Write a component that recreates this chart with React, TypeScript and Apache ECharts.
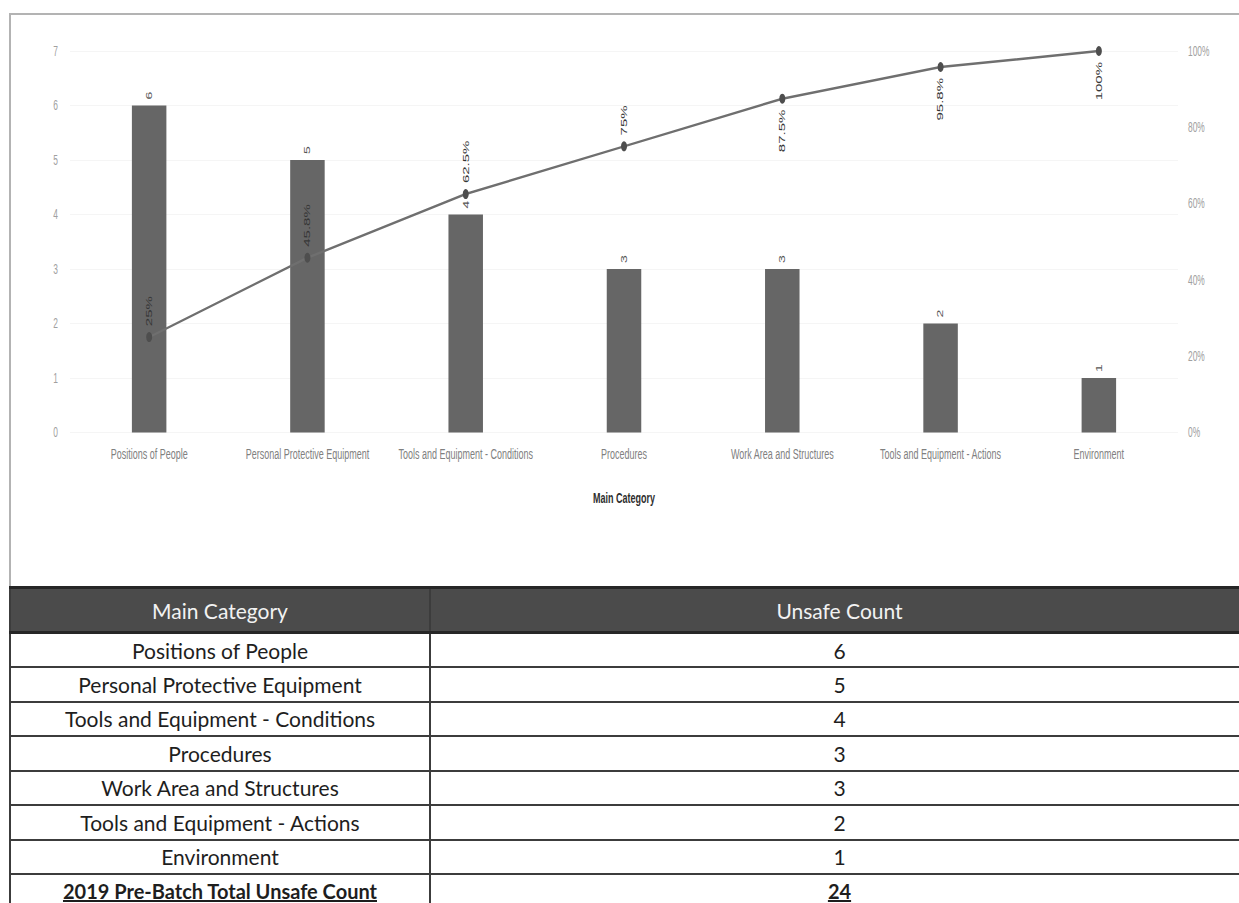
import React, { useEffect, useRef } from "react";
import * as echarts from "echarts";

// Pareto data: unsafe observations by main category
const categories = [
  "Positions of People",
  "Personal Protective Equipment",
  "Tools and Equipment - Conditions",
  "Procedures",
  "Work Area and Structures",
  "Tools and Equipment - Actions",
  "Environment",
];
const unsafeCounts = [6, 5, 4, 3, 3, 2, 1];
const cumulativePct = [25, 45.8, 62.5, 75, 87.5, 95.8, 100];
// cumulative labels sit above the point for the first four, below for the rest
const pctLabelSide = ["top", "top", "top", "top", "bottom", "bottom", "bottom"];

const axisTitle = "Main Category";
const tableHeaders = ["Main Category", "Unsafe Count"];
const totalLabel = "2019 Pre-Batch Total Unsafe Count";
const totalCount = 24;

// the chart is laid out wide and condensed horizontally
const SQUEEZE = 0.6;
const PAGE_W = 1239;
const CHART_H = 585;
const CHART_W = PAGE_W / SQUEEZE;

const FONT = "'Liberation Sans', Arial, sans-serif";
const TABLE_FONT = "Lato, 'Open Sans', sans-serif";

function ParetoChart() {
  const ref = useRef<HTMLDivElement>(null);

  useEffect(() => {
    if (!ref.current) return;
    const chart = echarts.init(ref.current, undefined, { renderer: "svg" });
    const px = (pageX: number) => pageX / SQUEEZE;

    const option: echarts.EChartsOption = {
      animation: false,
      textStyle: { fontFamily: FONT },
      grid: {
        left: px(70),
        right: CHART_W - px(1178),
        top: 51,
        bottom: CHART_H - 432.5,
        containLabel: false,
      },
      xAxis: {
        type: "category",
        data: categories,
        axisLine: { show: false },
        axisTick: { show: false },
        axisLabel: {
          color: "#808080",
          fontSize: 15,
          margin: 14,
          interval: 0,
        },
        name: axisTitle,
        nameLocation: "middle",
        nameGap: 58,
        nameTextStyle: {
          color: "#2e2e2e",
          fontSize: 15,
          fontWeight: "bold",
        },
      },
      yAxis: [
        {
          type: "value",
          min: 0,
          max: 7,
          interval: 1,
          axisLine: { show: false },
          axisTick: { show: false },
          axisLabel: { color: "#a0a0a0", fontSize: 14, margin: px(12) },
          splitLine: { lineStyle: { color: "#f2f2f2", width: 1 } },
        },
        {
          type: "value",
          min: 0,
          max: 100,
          interval: 20,
          position: "right",
          axisLine: { show: false },
          axisTick: { show: false },
          axisLabel: {
            color: "#a0a0a0",
            fontSize: 14,
            margin: px(10),
            formatter: "{value}%",
          },
          splitLine: { show: false },
        },
      ],
      series: [
        {
          type: "bar",
          data: unsafeCounts,
          barWidth: px(34.5),
          itemStyle: { color: "#666666" },
          label: {
            show: true,
            position: "top",
            distance: 6,
            rotate: 90,
            align: "left",
            verticalAlign: "middle",
            color: "#555",
            fontSize: 14,
          },
        },
        {
          type: "line",
          yAxisIndex: 1,
          z: 5,
          data: cumulativePct.map((v, i) => ({
            value: v,
            label: {
              position: pctLabelSide[i] as "top" | "bottom",
              align: pctLabelSide[i] === "top" ? "left" : "right",
            },
          })),
          symbol: "circle",
          symbolSize: 10,
          lineStyle: { color: "#6f6f6f", width: 2.5 },
          itemStyle: { color: "#4e4e4e" },
          label: {
            show: true,
            rotate: 90,
            distance: 6,
            verticalAlign: "middle",
            color: "#363636",
            fontSize: 15,
            formatter: "{c}%",
          },
        },
      ],
    };

    chart.setOption(option);
    return () => chart.dispose();
  }, []);

  return (
    <div
      ref={ref}
      style={{
        position: "absolute",
        left: 0,
        top: 0,
        width: CHART_W,
        height: CHART_H,
        transform: `scaleX(${SQUEEZE})`,
        transformOrigin: "0 0",
      }}
    />
  );
}

const cellBorder = "2px solid #3c3c3c";

function SummaryTable() {
  const cell: React.CSSProperties = {
    borderBottom: cellBorder,
    borderLeft: cellBorder,
    textAlign: "center",
    verticalAlign: "middle",
    padding: 0,
    fontSize: 21,
    color: "#1e1e1e",
    fontFamily: TABLE_FONT,
  };
  const head: React.CSSProperties = {
    ...cell,
    background: "#4b4b4b",
    color: "#f2f2f2",
    borderTop: "3px solid #262626",
    borderBottom: "3px solid #262626",
    fontWeight: "normal",
  };
  const total: React.CSSProperties = {
    ...cell,
    fontSize: 20,
    fontWeight: "bold",
    textDecoration: "underline",
  };
  return (
    <table
      style={{
        position: "absolute",
        left: 9,
        top: 586,
        width: 1238,
        borderCollapse: "collapse",
        tableLayout: "fixed",
      }}
    >
      <colgroup>
        <col style={{ width: 420 }} />
        <col style={{ width: 818 }} />
      </colgroup>
      <thead>
        <tr style={{ height: 45 }}>
          <th style={head}>{tableHeaders[0]}</th>
          <th style={head}>{tableHeaders[1]}</th>
        </tr>
      </thead>
      <tbody>
        {categories.map((c, i) => (
          <tr key={c} style={{ height: 34.5 }}>
            <td style={cell}>{c}</td>
            <td style={cell}>{unsafeCounts[i]}</td>
          </tr>
        ))}
        <tr style={{ height: 34.5 }}>
          <td style={total}>{totalLabel}</td>
          <td style={total}>{totalCount}</td>
        </tr>
      </tbody>
    </table>
  );
}

export default function App() {
  return (
    <div
      style={{
        position: "absolute",
        left: 0,
        top: 0,
        width: PAGE_W,
        height: 903,
        overflow: "hidden",
        background: "#fff",
      }}
    >
      <div
        style={{
          position: "absolute",
          left: 9,
          top: 13,
          width: 1300,
          height: 574,
          borderTop: "2px solid #b3b3b3",
          borderLeft: "2px solid #b3b3b3",
        }}
      />
      <ParetoChart />
      <SummaryTable />
    </div>
  );
}
